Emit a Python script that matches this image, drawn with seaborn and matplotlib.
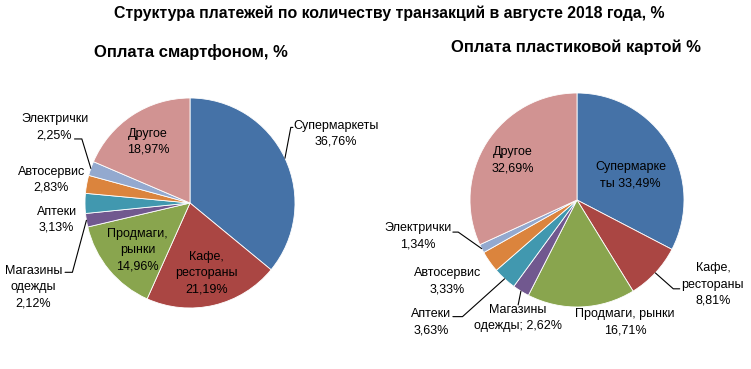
import numpy as np
import seaborn as sns
import matplotlib.pyplot as plt

# data, clockwise from 12 o'clock
categories = ["Супермаркеты", "Кафе, рестораны", "Продмаги, рынки", "Магазины одежды",
              "Аптеки", "Автосервис", "Электрички", "Другое"]
phone_values = [36.76, 21.19, 14.96, 2.12, 3.13, 2.83, 2.25, 18.97]
card_values = [33.49, 8.81, 16.71, 2.62, 3.63, 3.33, 1.34, 32.69]

phone_labels = ["Супермаркеты\n36,76%", "Кафе,\nрестораны\n21,19%", "Продмаги,\nрынки\n14,96%",
                "Магазины\nодежды\n2,12%", "Аптеки\n3,13%", "Автосервис\n2,83%",
                "Электрички\n2,25%", "Другое\n18,97%"]
card_labels = ["Супермарке\nты 33,49%", "Кафе,\nрестораны\n8,81%", "Продмаги, рынки\n16,71%",
               "Магазины\nодежды; 2,62%", "Аптеки\n3,63%", "Автосервис\n3,33%",
               "Электрички\n1,34%", "Другое\n32,69%"]

colors = ["#4572A7", "#AA4643", "#89A54E", "#71588F", "#4198AF", "#DB843D", "#93A9CF", "#D19392"]

sns.set_theme(style="white")
plt.rcParams['font.family'] = ['Liberation Sans', 'DejaVu Sans']

W, H = 751, 369
fig = plt.figure(figsize=(W / 100, H / 100), dpi=100)


def pie_axes(cx, cy, r, hw, hh):
    ax = fig.add_axes([(cx - hw) / W, 1 - (cy + hh) / H, 2 * hw / W, 2 * hh / H])
    ax.lims = (hw / r, hh / r)
    return ax


def draw(ax, values, labels, pos, leaders):
    wedges, _ = ax.pie(values, colors=colors, startangle=90, counterclock=False,
                       radius=1.0, wedgeprops=dict(edgecolor="white", linewidth=0.6))
    for w, lab, (tx, ty), lead in zip(wedges, labels, pos, leaders):
        ax.text(tx, ty, lab, ha="center", va="center", fontsize=9, color="black",
                linespacing=1.45)
        if lead is not None:
            # leader: wedge edge -> elbow -> short horizontal stub
            ang = np.deg2rad((w.theta1 + w.theta2) / 2)
            ex, ey = np.cos(ang), np.sin(ang)
            ax.plot([ex, lead[0], lead[1]], [ey, lead[2], lead[2]],
                    color="black", lw=0.8)
    ax.set_xlim(-ax.lims[0], ax.lims[0])
    ax.set_ylim(-ax.lims[1], ax.lims[1])
    ax.set_aspect("equal")
    ax.axis("off")


# left: smartphone
ax1 = pie_axes(190, 203, 105, 185, 150)
pos1 = [(1.39, 0.66), (0.16, -0.67), (-0.50, -0.45), (-1.49, -0.80),
        (-1.27, -0.16), (-1.32, 0.22), (-1.29, 0.72), (-0.40, 0.585)]
lead1 = [(0.96, 0.98, 0.72), None, None, (-1.12, -1.19, -0.66),
         None, None, (-1.03, -1.10, 0.61), None]
draw(ax1, phone_values, phone_labels, pos1, lead1)

# right: plastic card
ax2 = pie_axes(577, 200, 107, 170, 160)
pos2 = [(0.50, 0.23), (1.27, -0.79), (0.45, -1.14), (-0.55, -1.10),
        (-1.36, -1.14), (-1.21, -0.76), (-1.49, -0.34), (-0.60, 0.37)]
lead2 = [None, (0.90, 0.96, -0.83), None, (-0.55, -0.55, -0.98),
         (-1.07, -1.16, -1.09), None, (-1.11, -1.16, -0.30), None]
draw(ax2, card_values, card_labels, pos2, lead2)

fig.text(389 / W, 1 - 13 / H, "Структура платежей по количеству транзакций в августе 2018 года, %",
         ha="center", va="center", fontsize=11.4, fontweight="bold", color="black")
fig.text(191 / W, 1 - 52 / H, "Оплата смартфоном, %", ha="center", va="center",
         fontsize=12, fontweight="bold", color="black")
fig.text(576 / W, 1 - 47 / H, "Оплата пластиковой картой %", ha="center", va="center",
         fontsize=12, fontweight="bold", color="black")

fig.savefig("out.png", dpi=100, facecolor="white")
